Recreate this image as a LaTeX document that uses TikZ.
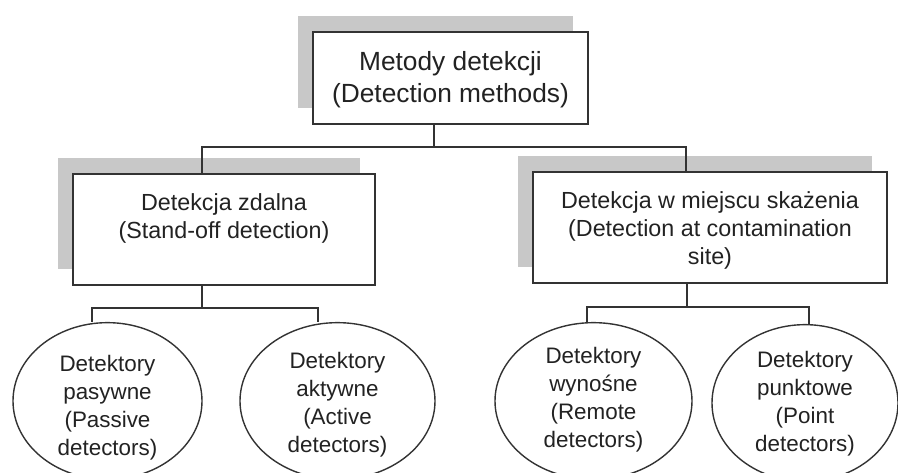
\documentclass[tikz,border=0pt]{standalone}
\usepackage{fontspec}
\setmainfont{Liberation Sans}
\usetikzlibrary{shapes.geometric,shadows}
\definecolor{linec}{HTML}{333333}
\definecolor{shadowc}{HTML}{C8C8C8}
\definecolor{textc}{HTML}{222222}
% text block moved by #1 (positive = up) without changing its size
\newcommand{\movedtext}[2]{\raisebox{#1}[\height][\depth]{\begin{tabular}{@{}c@{}}#2\end{tabular}}}
\begin{document}
\begin{tikzpicture}[x=1pt,y=-1pt,
  line/.style={draw=linec, line width=1.5pt},
  boxst/.style={rectangle, draw=linec, line width=1.5pt, fill=white, inner sep=0pt,
    text=textc, font=\fontsize{23.3}{28}\selectfont,
    drop shadow={shadow xshift=-15.5pt, shadow yshift=16pt, fill=shadowc, opacity=1}},
  ellst/.style={ellipse, draw=linec, line width=1.4pt, fill=white, inner sep=0pt,
    text=textc, font=\fontsize{22.4}{27.7}\selectfont}]
\useasboundingbox (0,0) rectangle (898,473);

% boxes
\node[boxst, minimum width=275pt, minimum height=92pt, font=\fontsize{26.3}{31.5}\selectfont] (top) at (450.5,78)
  {\movedtext{-2pt}{Metody detekcji\\(Detection methods)}};
\node[boxst, minimum width=302pt, minimum height=111pt] (zd) at (224,229.5)
  {\movedtext{11pt}{Detekcja zdalna\\(Stand-off detection)}};
\node[boxst, minimum width=354pt, minimum height=111pt] (wm) at (710,227.5)
  {\movedtext{-3pt}{Detekcja w miejscu skażenia\\(Detection at contamination\\site)}};

% ellipses
\node[ellst, minimum width=189pt, minimum height=142pt] (e1) at (107.5,401)
  {\movedtext{-7pt}{Detektory\\pasywne\\(Passive\\detectors)}};
\node[ellst, minimum width=195pt, minimum height=142pt] (e2) at (337.5,401)
  {\movedtext{-4pt}{Detektory\\aktywne\\(Active\\detectors)}};
\node[ellst, minimum width=197pt, minimum height=142pt] (e3) at (593.5,401)
  {\movedtext{1pt}{Detektory\\wynośne\\(Remote\\detectors)}};
\node[ellst, minimum width=186pt, minimum height=140pt] (e4) at (805,403)
  {\movedtext{-1pt}{Detektory\\punktowe\\(Point\\detectors)}};

% connectors
\coordinate (j1) at (434,147);
\coordinate (bl) at (202,147);
\coordinate (br) at (686,147);
\draw[line] (j1 |- top.south) -- (j1);
\draw[line] (bl |- zd.north) -- (bl) -- (br) -- (br |- wm.north);

\coordinate (j2) at (202,308);
\coordinate (a1) at (92,308);
\coordinate (a2) at (318,308);
\draw[line] (j2 |- zd.south) -- (j2);
\draw[line] (a1 |- e1.north) -- (a1) -- (a2) -- (a2 |- e2.north);

\coordinate (j3) at (687,307);
\coordinate (b1) at (587,307);
\coordinate (b2) at (809,307);
\draw[line] (j3 |- wm.south) -- (j3);
\draw[line] (b1 |- e3.north) -- (b1) -- (b2) -- (b2 |- e4.north);
\end{tikzpicture}
\end{document}
